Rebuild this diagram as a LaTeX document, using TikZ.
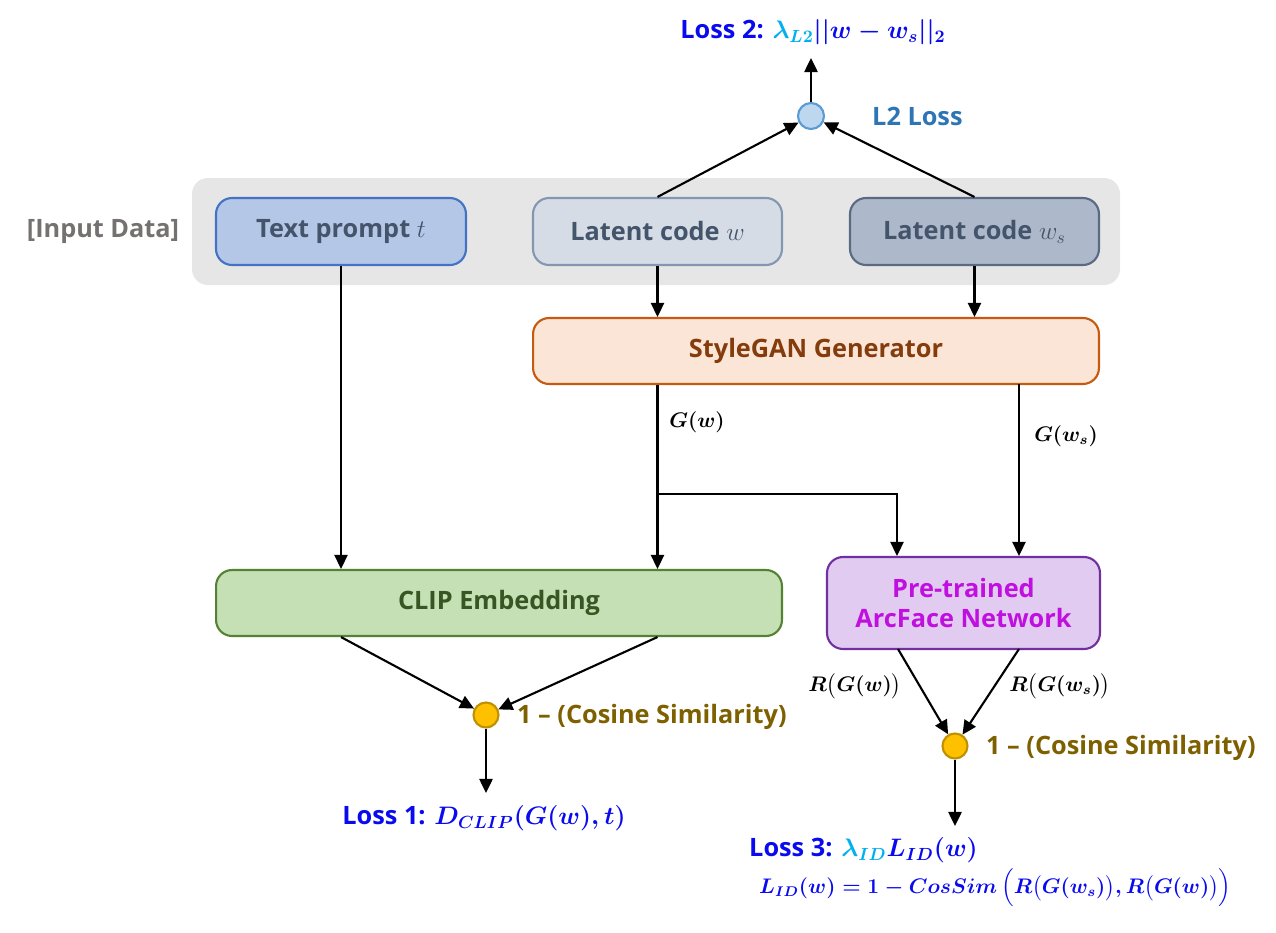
\documentclass[tikz,border=0pt]{standalone}
\usepackage{amsmath,bm}
\usepackage[no-math]{fontspec}
\setmainfont{Open Sans}
\usetikzlibrary{arrows.meta}
\definecolor{bggray}{HTML}{E7E6E6}
\definecolor{tpfill}{HTML}{B4C7E7}
\definecolor{tpdraw}{HTML}{4472C4}
\definecolor{lwfill}{HTML}{D6DCE5}
\definecolor{lwdraw}{HTML}{8497B0}
\definecolor{lsfill}{HTML}{ADB9CA}
\definecolor{lsdraw}{HTML}{596A82}
\definecolor{boxtext}{HTML}{44546A}
\definecolor{sgfill}{HTML}{FBE5D6}
\definecolor{sgdraw}{HTML}{C55A11}
\definecolor{sgtext}{HTML}{843C0C}
\definecolor{clfill}{HTML}{C5E0B4}
\definecolor{cldraw}{HTML}{548235}
\definecolor{cltext}{HTML}{375623}
\definecolor{arfill}{HTML}{E2CBF0}
\definecolor{ardraw}{HTML}{7030A0}
\definecolor{artext}{HTML}{C010E0}
\definecolor{lossblue}{HTML}{0A0AF0}
\definecolor{lamblue}{HTML}{00B0F0}
\definecolor{l2fill}{HTML}{BDD7EE}
\definecolor{l2draw}{HTML}{5B9BD5}
\definecolor{l2text}{HTML}{2E75B6}
\definecolor{cosfill}{HTML}{FFC000}
\definecolor{cosdraw}{HTML}{BF9000}
\definecolor{costext}{HTML}{7F6000}
\definecolor{inputgray}{HTML}{767171}
\begin{document}
\begin{tikzpicture}[x=0.02cm,y=-0.02cm,
  every node/.style={font=\fontsize{14.4}{17.5}\selectfont\bfseries},
  box/.style={draw, line width=1.2pt, rounded corners=0.32cm, align=center, inner sep=0pt},
  dot/.style={circle, draw, line width=1.2pt, inner sep=0pt},
  arr/.style={line width=1.2pt, -{Triangle[length=8pt,width=7.5pt]}},
  mlbl/.style={font=\fontsize{12}{15}\selectfont\boldmath},
]
\useasboundingbox (0,0) rectangle (1276,933);
\fill[bggray, rounded corners=0.32cm] (192,178) rectangle (1120,285);
\node[text=inputgray] (inp) at (103,232) {[Input Data]};

\node[box, fill=tpfill, draw=tpdraw, text=boxtext, minimum width=5cm, minimum height=1.34cm] (tp) at (341,231.5) {Text prompt $t$};
\node[box, fill=lwfill, draw=lwdraw, text=boxtext, minimum width=4.98cm, minimum height=1.34cm] (lw) at (657.5,231.5) {Latent code $w$};
\node[box, fill=lsfill, draw=lsdraw, text=boxtext, minimum width=4.98cm, minimum height=1.34cm] (ls) at (974.5,231.5) {Latent code $w_s$};

\node[box, fill=sgfill, draw=sgdraw, text=sgtext, minimum width=11.32cm, minimum height=1.32cm] (sg) at (816,351) {StyleGAN Generator};
\node[box, fill=clfill, draw=cldraw, text=cltext, minimum width=11.32cm, minimum height=1.32cm] (clip) at (499,603) {CLIP Embedding};
\node[box, fill=arfill, draw=ardraw, text=artext, minimum width=5.46cm, minimum height=1.84cm] (arc) at (963.5,603) {Pre-trained\\ArcFace Network};

\node[dot, fill=l2fill, draw=l2draw, minimum size=0.52cm] (l2) at (811,116) {};
\node[text=l2text, anchor=west] (l2lbl) at (866,116) {L2 Loss};
\node[text=lossblue] (loss2) at (813,32) {Loss 2: \textcolor{lamblue}{$\bm{\lambda_{L2}}$}{\boldmath$||w-w_s||_2$}};
\coordinate (l2top) at (811,58);

\node[dot, fill=cosfill, draw=cosdraw, minimum size=0.5cm] (c1) at (486,715) {};
\node[text=costext, anchor=west] (c1lbl) at (511,717) {1 \textendash{} (Cosine Similarity)};
\node[dot, fill=cosfill, draw=cosdraw, minimum size=0.5cm] (c2) at (955,746) {};
\node[text=costext, anchor=west] (c2lbl) at (980,748) {1 \textendash{} (Cosine Similarity)};

\node[text=lossblue] (loss1) at (484,818) {Loss 1: {\boldmath$D_{CLIP}(G(w),t)$}};
\node[text=lossblue, anchor=west] (loss3) at (743,850) {Loss 3: \textcolor{lamblue}{$\bm{\lambda_{ID}}$}{\boldmath$L_{ID}(w)$}};
\node[text=lossblue, anchor=west, mlbl] (lid) at (753,888) {$L_{ID}(w)=1-CosSim\,\Big(R\big(G(w_s)\big),R\big(G(w)\big)\Big)$};

\node[mlbl] (gw) at (697,422) {$G(w)$};
\node[mlbl] (gws) at (1066,436) {$G(w_s)$};
\node[mlbl] (rgw) at (855,686) {$R\big(G(w)\big)$};
\node[mlbl] (rgws) at (1060,686) {$R\big(G(w_s)\big)$};

\coordinate (l1bot) at (486,793);
\coordinate (l3bot) at (955,826);
\coordinate (br) at (657,494);
\coordinate (axin) at (897,557);
\coordinate (axs) at (1019,384);
\coordinate (aout1) at (898,649);
\coordinate (aout2) at (1019,649);

% top
\draw[arr] (l2) -- (l2top);
\draw[arr] (lw.north) -- (l2);
\draw[arr] (ls.north) -- (l2);
% into StyleGAN
\draw[arr] (lw.south) -- (sg.north -| lw);
\draw[arr] (ls.south) -- (sg.north -| ls);
% text prompt to CLIP
\draw[arr] (tp.south) -- (clip.north -| tp);
% G(w)
\draw[arr] (sg.south -| lw) -- (clip.north -| lw);
\draw[arr] (br) -| (arc.north -| axin);
% G(ws)
\draw[arr] (axs) -- (arc.north -| axs);
% CLIP to cos
\draw[arr] (clip.south -| tp) -- (c1);
\draw[arr] (clip.south -| lw) -- (c1);
\draw[arr] (c1) -- (l1bot);
% Arc to cos
\draw[arr] (aout1) -- (c2);
\draw[arr] (aout2) -- (c2);
\draw[arr] (c2) -- (l3bot);
\end{tikzpicture}
\end{document}
